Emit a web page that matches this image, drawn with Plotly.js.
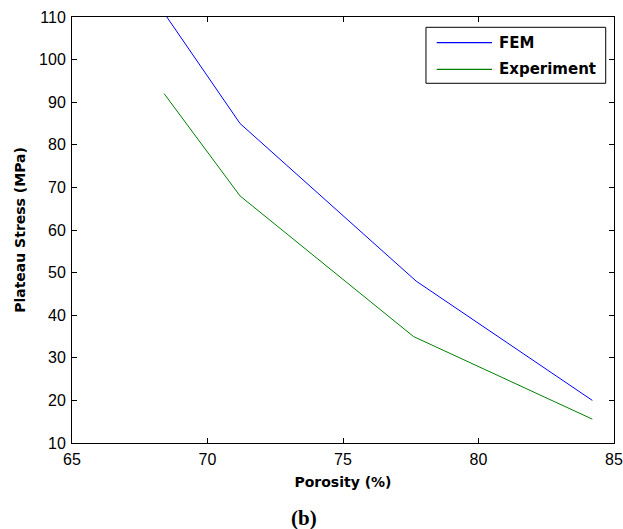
<!DOCTYPE html>
<html>
<head>
<meta charset="utf-8">
<script src="https://cdn.plot.ly/plotly-3.0.1.min.js"></script>
<style>html,body{margin:0;padding:0;background:#fff;}#chart{width:623px;height:529px;}</style>
</head>
<body>
<div id="chart"></div>
<script>
const femPorosity = [68.5, 71.2, 77.7, 84.2];
const femStress = [110, 85, 48, 20];
const expPorosity = [68.4, 71.2, 77.6, 84.2];
const expStress = [92, 68, 35, 15.6];
const seriesNames = ['FEM', 'Experiment'];
const seriesColors = ['#0000ff', '#008000'];
const xTicks = [65, 70, 75, 80, 85];
const yTicks = [10, 20, 30, 40, 50, 60, 70, 80, 90, 100, 110];

const tickFont = {family: 'Liberation Sans, Arial, sans-serif', size: 16, color: '#000'};
const boldFont = {family: 'DejaVu Sans, sans-serif', size: 14, color: '#000', weight: 'bold'};
const axisCommon = {
  showline: true, linecolor: '#000', linewidth: 1, mirror: 'ticks',
  ticks: 'inside', ticklen: 5, tickcolor: '#000', tickwidth: 1,
  showgrid: false, zeroline: false, tickfont: tickFont
};

const data = [
  {x: femPorosity, y: femStress, mode: 'lines', name: seriesNames[0], line: {color: seriesColors[0], width: 1}},
  {x: expPorosity, y: expStress, mode: 'lines', name: seriesNames[1], line: {color: seriesColors[1], width: 1}}
];

// legend drawn as box + sample lines + labels (paper coords of the plot area)
const legBox = {x0: 0.6531, x1: 0.9847, y0: 0.8444, y1: 0.9758};
const legLineX = [0.6729, 0.7749];
const legRowY = [0.9397, 0.8772];
const legTextX = 0.7841;

const shapes = [{
  type: 'rect', xref: 'paper', yref: 'paper',
  x0: legBox.x0, x1: legBox.x1, y0: legBox.y0, y1: legBox.y1,
  line: {color: '#000', width: 1}, fillcolor: '#fff', layer: 'above'
}];
const annotations = [];
seriesNames.forEach((n, i) => {
  shapes.push({type: 'line', xref: 'paper', yref: 'paper', x0: legLineX[0], x1: legLineX[1],
    y0: legRowY[i], y1: legRowY[i], line: {color: seriesColors[i], width: 1.3}, layer: 'above'});
  annotations.push({text: '<b>' + n + '</b>', xref: 'paper', yref: 'paper', x: legTextX, y: legRowY[i],
    xanchor: 'left', yanchor: 'middle', showarrow: false,
    font: {family: 'DejaVu Sans, sans-serif', size: 15, color: '#000'}});
});
annotations.push({
  text: '<b>(b)</b>', xref: 'paper', yref: 'paper', x: 0.428, y: -0.176,
  xanchor: 'center', yanchor: 'middle', showarrow: false,
  font: {family: 'Liberation Serif, Times New Roman, serif', size: 21, color: '#000'}
});

const layout = {
  width: 623, height: 529,
  margin: {l: 72, r: 9, t: 17, b: 86},
  paper_bgcolor: '#fff', plot_bgcolor: '#fff',
  showlegend: false,
  xaxis: Object.assign({}, axisCommon, {
    range: [65, 85], tickvals: xTicks, ticktext: xTicks.map(String), ticklabelstandoff: 2,
    title: {text: '<b>Porosity (%)</b>', font: boldFont, standoff: 9}
  }),
  yaxis: Object.assign({}, axisCommon, {
    range: [10, 110], tickvals: yTicks, ticktext: yTicks.map(String), ticklabelstandoff: 2,
    title: {text: '<b>Plateau Stress (MPa)</b>', font: boldFont, standoff: 10}
  }),
  shapes: shapes,
  annotations: annotations
};

Plotly.newPlot('chart', data, layout, {displayModeBar: false, staticPlot: true});
</script>
</body>
</html>
